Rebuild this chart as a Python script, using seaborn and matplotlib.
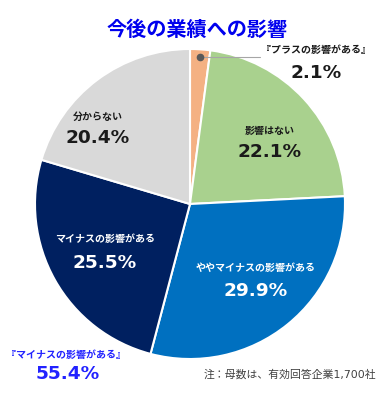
import matplotlib
matplotlib.use("Agg")
import matplotlib.pyplot as plt
import seaborn as sns
import numpy as np

categories = ["『プラスの影響がある』", "影響はない", "ややマイナスの影響がある",
              "マイナスの影響がある", "分からない"]
values = [2.1, 22.1, 29.9, 25.5, 20.4]
colors = ["#F4B183", "#A9D18E", "#0070C0", "#002060", "#D9D9D9"]
minus_total = 55.4
title = "今後の業績への影響"
note = "注：母数は、有効回答企業1,700社"

sns.set_theme(style="white")
plt.rcParams["font.family"] = ["DejaVu Sans", "Noto Sans CJK JP"]

W, H = 388, 400
fig = plt.figure(figsize=(W / 100, H / 100), dpi=100)


def px(x, y):
    return x / W, 1 - y / H


# pie centred at (190, 204) px, radius 155 px
cx, cy, r = 190, 204, 155
ax = fig.add_axes([(cx - r) / W, (H - cy - r) / H, 2 * r / W, 2 * r / H])
wedges, _ = ax.pie(values, colors=colors, startangle=90, counterclock=False,
                   wedgeprops=dict(edgecolor="white", linewidth=1.5))
ax.set_xlim(-1, 1)
ax.set_ylim(-1, 1)
ax.axis("off")

fig.text(*px(197, 29), title, ha="center", va="center", color="#0000EE",
         fontsize=14.5, fontweight="bold", family=["Noto Sans CJK JP"])

# label positions (px) and text colours for each slice
label_pos = [(316, 50, 73), (270, 131, 152), (256, 268, 291),
             (105, 239, 263), (98, 117, 138)]
text_cols = ["#1a1a1a", "#1a1a1a", "white", "white", "#1a1a1a"]
for cat, val, (x, y1, y2), tc in zip(categories, values, label_pos, text_cols):
    fig.text(*px(x, y1), cat, ha="center", va="center", color=tc,
             fontsize=7.2, fontweight="bold")
    fig.text(*px(x, y2), f"{val}%", ha="center", va="center", color=tc,
             fontsize=13.3, fontweight="bold")

# leader line for the small slice
mid = np.deg2rad(90 - values[0] / 100 * 360 / 2)
dot = (0.95 * np.cos(mid), 0.95 * np.sin(mid))
ax.plot([dot[0], (260 - cx) / r], [dot[1], dot[1]], color="#A6A6A6", lw=0.8)
ax.plot(*dot, "o", color="#595959", ms=4.5)

fig.text(*px(66, 355), "『マイナスの影響がある』", ha="center", va="center",
         color="#2222FF", fontsize=7.2, fontweight="bold")
fig.text(*px(68, 374), f"{minus_total}%", ha="center", va="center",
         color="#2222FF", fontsize=13.3, fontweight="bold")

fig.text(*px(290, 374), note, ha="center", va="center", color="#404040",
         fontsize=7.8)

fig.savefig("out.png", dpi=100)
plt.close(fig)
